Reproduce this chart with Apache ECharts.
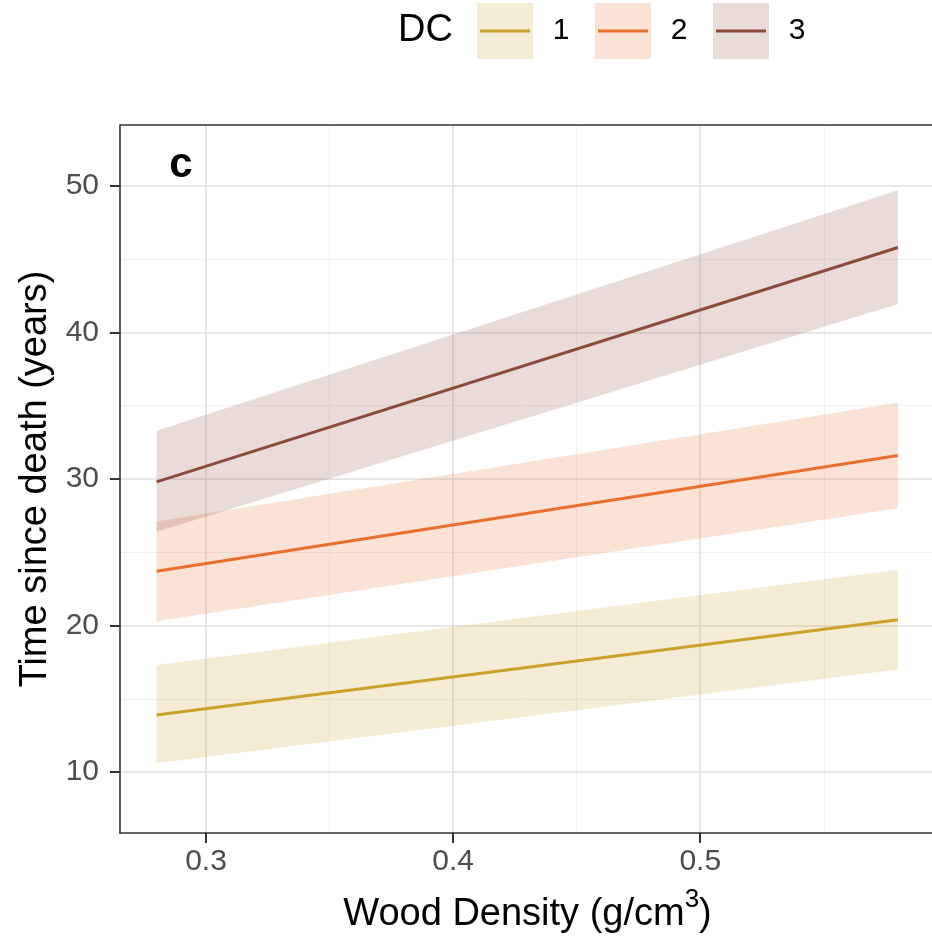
<!DOCTYPE html>
<html><head><meta charset="utf-8">
<script src="https://cdn.jsdelivr.net/npm/echarts@6/dist/echarts.min.js"></script>
<style>html,body{margin:0;padding:0;background:#fff}#c{width:932px;height:944px}</style>
</head><body><div id="c"></div>
<script>
// ---- data ----
const dcLevels = ['1', '2', '3'];
const xEnds = [0.28, 0.58];
const fit1 = [13.9, 20.4];
const lower1 = [10.6, 17.0];
const upper1 = [17.3, 23.8];
const fit2 = [23.7, 31.6];
const lower2 = [20.3, 28.0];
const upper2 = [27.1, 35.2];
const fit3 = [29.8, 45.8];
const lower3 = [26.4, 41.95];
const upper3 = [33.3, 49.7];
const xTicks = [0.3, 0.4, 0.5];
const yTicks = [10, 20, 30, 40, 50];
const xRange = [0.2652, 0.595];
const yRange = [5.84, 54.16];
const lineColors = ['#C9A22B', '#E8702E', '#8C4B3B'];
const FONT = '"Liberation Sans", Arial, Helvetica, sans-serif';

const chart = echarts.init(document.getElementById('c'), null, {renderer: 'canvas'});

const bands = [[lower1, upper1], [lower2, upper2], [lower3, upper3]];
const fits = [fit1, fit2, fit3];
const series = [];
bands.forEach(([lo, up], i) => {
  series.push({
    type: 'custom', xAxisIndex: 1, yAxisIndex: 1, silent: true, z: 1,
    data: [[xEnds[0], lo[0], xEnds[1], lo[1], up[1], up[0]]],
    encode: {x: [0, 2], y: [1, 3, 4, 5]},
    renderItem: function (params, api) {
      const pts = [
        api.coord([api.value(0), api.value(1)]),
        api.coord([api.value(2), api.value(3)]),
        api.coord([api.value(2), api.value(4)]),
        api.coord([api.value(0), api.value(5)])
      ];
      return {type: 'polygon', shape: {points: pts},
        style: {fill: lineColors[i], opacity: 0.2}};
    }
  });
});
fits.forEach((f, i) => {
  series.push({
    type: 'line', name: dcLevels[i], xAxisIndex: 1, yAxisIndex: 1,
    data: xEnds.map((x, j) => [x, f[j]]),
    symbol: 'none', lineStyle: {color: lineColors[i], width: 3}, z: 3
  });
});

// legend drawn as graphic (key boxes with line)
const legendGraphics = [{
  type: 'text', left: 398, top: 12,
  style: {text: 'DC', font: '38px ' + FONT, fill: '#000'}
}];
dcLevels.forEach((lab, i) => {
  const x0 = 477 + i * 118;
  legendGraphics.push({
    type: 'rect', shape: {x: x0, y: 3, width: 56, height: 56},
    style: {fill: lineColors[i], opacity: 0.2}
  });
  legendGraphics.push({
    type: 'line', shape: {x1: x0 + 3, y1: 31, x2: x0 + 53, y2: 31},
    style: {stroke: lineColors[i], lineWidth: 3}
  });
  legendGraphics.push({
    type: 'text', x: x0 + 84, y: 31,
    style: {text: lab, font: '30px ' + FONT, fill: '#000', align: 'center', verticalAlign: 'middle'}
  });
});
legendGraphics.push({
  type: 'text', x: 181, y: 165,
  style: {text: 'c', font: 'bold 42px ' + FONT, fill: '#000', align: 'center', verticalAlign: 'middle'}
});
// top border of the panel (right side falls outside the picture)
legendGraphics.push({
  type: 'line', z: 100, shape: {x1: 120, y1: 125, x2: 935, y2: 125},
  style: {stroke: '#333333', lineWidth: 1.6}
});

const minorSplit = {show: true, showMinLine: false, showMaxLine: false, lineStyle: {color: 'rgba(0,0,0,0.05)', width: 1}};
const majorSplit = {show: true, lineStyle: {color: '#E2E2E2', width: 1.6}};
const axisLineStyle = {show: true, lineStyle: {color: '#333333', width: 1.6}};

const option = {
  backgroundColor: '#fff',
  animation: false,
  textStyle: {fontFamily: FONT},
  grid: {
    left: 120, top: 125, width: 815, height: 708,
    show: false, outerBoundsMode: 'none', containLabel: false
  },
  xAxis: [
    { // minor gridlines
      type: 'value', position: 'bottom', min: xRange[0], max: xRange[1], splitNumber: 6,
      axisLine: {show: false}, axisTick: {show: false}, axisLabel: {show: false},
      splitLine: minorSplit
    },
    {
      type: 'value', position: 'bottom', min: xRange[0], max: xRange[1], splitNumber: 3,
      axisLine: axisLineStyle,
      axisTick: {show: true, length: 10, customValues: xTicks, lineStyle: {color: '#333', width: 2}},
      axisLabel: {customValues: xTicks, formatter: v => v.toFixed(1), fontSize: 30, color: '#4D4D4D', margin: 14, fontFamily: FONT},
      splitLine: majorSplit,
      name: 'Wood Density (g/cm{sup|3})', nameLocation: 'middle', nameGap: 54,
      nameTextStyle: {fontSize: 38, color: '#000', lineHeight: 56, fontFamily: FONT,
        rich: {sup: {fontSize: 26, lineHeight: 26, verticalAlign: 'top', color: '#000', fontFamily: FONT}}}
    }
  ],
  yAxis: [
    {
      type: 'value', position: 'left', min: yRange[0], max: yRange[1], splitNumber: 10,
      axisLine: {show: false}, axisTick: {show: false}, axisLabel: {show: false},
      splitLine: minorSplit
    },
    {
      type: 'value', position: 'left', min: yRange[0], max: yRange[1], splitNumber: 5,
      axisLine: axisLineStyle,
      axisTick: {show: true, length: 10, customValues: yTicks, lineStyle: {color: '#333', width: 2}},
      axisLabel: {customValues: yTicks, fontSize: 30, color: '#4D4D4D', margin: 21, fontFamily: FONT},
      splitLine: majorSplit,
      name: 'Time since death (years)', nameLocation: 'middle', nameGap: 64,
      nameTextStyle: {fontSize: 38, color: '#000', fontFamily: FONT}
    }
  ],
  graphic: legendGraphics,
  series: series
};
chart.setOption(option);
</script>
</body></html>
